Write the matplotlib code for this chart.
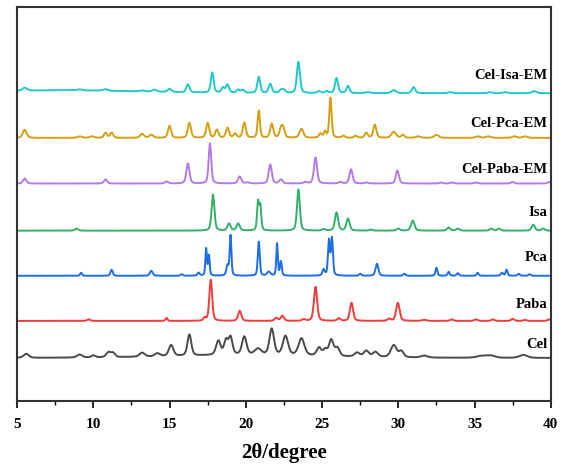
import numpy as np
import matplotlib.pyplot as plt

plt.rcParams['font.family'] = ['Liberation Serif', 'DejaVu Serif']
plt.rcParams['font.weight'] = 'bold'

# peak lists: position (deg), height, FWHM (deg)
# heights/baselines are in pixel units of the original figure
cel_pos = [5.6, 9.1, 10.0, 11.0, 11.3, 13.2, 14.2, 15.1, 16.3, 18.2, 18.7, 19.0, 19.9, 20.8, 21.7,
           22.6, 23.65, 24.8, 25.2, 25.6, 26.0, 27.3, 27.9, 28.5, 29.7, 30.2, 31.7, 35.5, 36.1, 38.2, 20.0]
cel_h = [4, 3, 2, 5, 4, 4, 3, 11, 21, 14, 14, 17, 18, 6, 26,
         19, 17, 8, 6, 16, 8, 4, 6, 5, 12, 6, 2, 2, 2, 3, 3]
cel_w = [0.4, 0.4, 0.3, 0.35, 0.3, 0.4, 0.4, 0.35, 0.3, 0.35, 0.3, 0.3, 0.35, 0.5, 0.35,
         0.4, 0.45, 0.35, 0.3, 0.35, 0.35, 0.4, 0.4, 0.4, 0.45, 0.35, 0.5, 0.8, 0.6, 0.6, 12.0]

paba_pos = [9.7, 14.8, 17.3, 17.7, 19.6, 22.0, 22.4, 23.8, 24.57, 26.1, 26.93, 29.4, 29.97,
            31.7, 33.5, 35.1, 36.2, 37.5, 38.3, 39.9]
paba_h = [1.5, 3, 3, 41, 10, 3, 5, 1.5, 34, 2.5, 18, 2, 18, 1, 1.5, 1.5, 1.5, 2, 1, 1.5]
paba_w = [0.25, 0.15, 0.18, 0.22, 0.25, 0.25, 0.25, 0.25, 0.25, 0.25, 0.25, 0.25, 0.27,
          0.35, 0.25, 0.25, 0.25, 0.25, 0.25, 0.25]

pca_pos = [9.2, 11.2, 13.8, 15.8, 16.9, 17.4, 17.58, 18.8, 19.0, 20.85, 21.5, 22.05, 22.3,
           25.1, 25.45, 25.65, 27.5, 28.6, 30.4, 32.5, 33.3, 33.9, 35.2, 36.8, 37.1, 37.9, 38.6]
pca_h = [3, 6, 5, 1.5, 3, 27, 20, 10, 40, 34, 4, 32, 14,
         6, 35, 37, 2, 12, 2, 8, 4, 2.5, 3, 3, 6, 2, 1.5]
pca_w = [0.15, 0.18, 0.22, 0.18, 0.18, 0.12, 0.12, 0.18, 0.13, 0.15, 0.25, 0.12, 0.14,
         0.18, 0.15, 0.15, 0.18, 0.22, 0.18, 0.15, 0.15, 0.18, 0.15, 0.18, 0.15, 0.18, 0.18]

isa_pos = [8.9, 17.85, 18.9, 19.5, 20.8, 20.95, 23.45, 25.1, 25.95, 26.7, 28.2, 30.0, 30.95,
           33.3, 33.9, 36.1, 36.6, 38.85, 39.5]
isa_h = [2, 36, 7, 7, 28, 24, 41, 1.5, 18, 12, 1, 2, 10, 3, 2, 2, 2, 6, 2]
isa_w = [0.25, 0.22, 0.25, 0.25, 0.15, 0.15, 0.22, 0.25, 0.25, 0.25, 0.25, 0.25, 0.27,
         0.25, 0.25, 0.25, 0.25, 0.25, 0.25]

cpaba_pos = [5.5, 10.8, 14.8, 16.2, 17.65, 19.6, 20.1, 21.6, 22.3, 23.9, 24.57, 26.2, 26.9,
             27.9, 29.94, 32.8, 33.5, 35.1, 37.5, 39.9]
cpaba_h = [5, 4, 2, 20, 40, 7, 1, 19, 4, 1.5, 26, 1.5, 14, 1, 13, 1, 1, 1, 1.5, 1.5]
cpaba_w = [0.25, 0.25, 0.25, 0.24, 0.2, 0.25, 0.25, 0.24, 0.25, 0.25, 0.24, 0.25, 0.24,
           0.25, 0.24, 0.25, 0.25, 0.25, 0.25, 0.25]

cpca_pos = [5.5, 9.1, 9.9, 10.8, 11.2, 13.2, 13.8, 15.0, 16.3, 17.5, 18.1, 18.8, 19.3, 19.9,
            20.85, 21.7, 22.3, 22.45, 23.65, 24.9, 25.2, 25.55, 26.4, 27.2, 27.9, 28.46, 29.7,
            30.3, 31.3, 32.5, 35.2, 35.9, 37.6, 38.3]
cpca_h = [8, 1.5, 1.5, 5, 5, 4, 3, 12, 15, 15, 8, 10, 4, 15,
          27, 14, 8, 9, 9, 4, 6, 40, 2, 2, 5, 13, 6,
          3, 1.5, 3, 1.5, 1.5, 1.5, 1.5]
cpca_w = [0.3, 0.35, 0.35, 0.24, 0.24, 0.3, 0.3, 0.24, 0.24, 0.24, 0.24, 0.24, 0.24, 0.24,
          0.18, 0.24, 0.24, 0.24, 0.3, 0.24, 0.18, 0.18, 0.24, 0.24, 0.24, 0.24, 0.35,
          0.24, 0.35, 0.35, 0.35, 0.35, 0.35, 0.35]

cisa_pos = [5.5, 9.1, 10.8, 13.2, 14.0, 15.0, 16.2, 17.8, 18.5, 18.8, 19.5, 19.8, 20.85, 21.6,
            22.3, 22.5, 23.45, 24.8, 25.3, 25.95, 26.7, 28.0, 29.7, 31.0, 33.4, 36.0, 37.0, 38.9, 8.0]
cisa_h = [3, 1, 1.5, 1, 2, 3, 8, 20, 5, 8, 3, 3, 16, 9,
          3, 3, 31, 2, 2, 15, 7, 1, 3, 6, 1, 1, 1, 2, 3]
cisa_w = [0.35, 0.35, 0.35, 0.35, 0.35, 0.3, 0.24, 0.22, 0.24, 0.24, 0.24, 0.24, 0.22, 0.24,
          0.24, 0.24, 0.24, 0.24, 0.24, 0.24, 0.24, 0.35, 0.35, 0.26, 0.35, 0.35, 0.35, 0.35, 12.0]

names = ['Cel', 'Paba', 'Pca', 'Isa', 'Cel-Paba-EM', 'Cel-Pca-EM', 'Cel-Isa-EM']
baselines = [43, 80, 125, 170, 217, 262.5, 307]
label_y = [56, 96, 143, 188, 231, 277, 325]
colors = ['#4a4a4a', '#f03c3c', '#1c6fe0', '#34ae68', '#b57be0', '#d4a010', '#1ec8cc']
peaks = [(cel_pos, cel_h, cel_w), (paba_pos, paba_h, paba_w), (pca_pos, pca_h, pca_w),
         (isa_pos, isa_h, isa_w), (cpaba_pos, cpaba_h, cpaba_w), (cpca_pos, cpca_h, cpca_w),
         (cisa_pos, cisa_h, cisa_w)]


def profile(x, pos, h, w):
    # pseudo-Voigt peaks
    y = np.zeros_like(x)
    for p, a, f in zip(pos, h, w):
        g = np.exp(-4 * np.log(2) * (x - p) ** 2 / f ** 2)
        l = 1 / (1 + 4 * (x - p) ** 2 / f ** 2)
        y += a * (0.6 * g + 0.4 * l)
    return y


x = np.arange(5, 40.001, 0.01)

fig = plt.figure(figsize=(5.69, 4.67), dpi=100)
ax = fig.add_axes([0.030, 0.141, 0.938, 0.844])

for name, base, ly, c, pk in zip(names, baselines, label_y, colors, peaks):
    ax.plot(x, base + profile(x, *pk), color=c, lw=1.4)
    ax.text(39.8, ly, name, ha='right', va='center', fontsize=10.5, fontweight='bold')

ax.set_xlim(5, 40)
ax.set_ylim(0, 393)
ax.set_yticks([])
ax.set_xticks(np.arange(5, 41, 5))
ax.set_xticks(np.arange(7.5, 40, 5), minor=True)
ax.tick_params(axis='x', which='major', direction='out', length=5, width=1.2, labelsize=11, pad=7)
ax.tick_params(axis='x', which='minor', direction='out', length=3, width=1.0)
for lab in ax.get_xticklabels():
    lab.set_fontweight('bold')
for s in ax.spines.values():
    s.set_linewidth(1.5)
    s.set_color('#333333')
ax.set_xlabel('2θ/degree', fontsize=15, fontweight='bold', labelpad=9)

fig.savefig('out.png', dpi=100)
